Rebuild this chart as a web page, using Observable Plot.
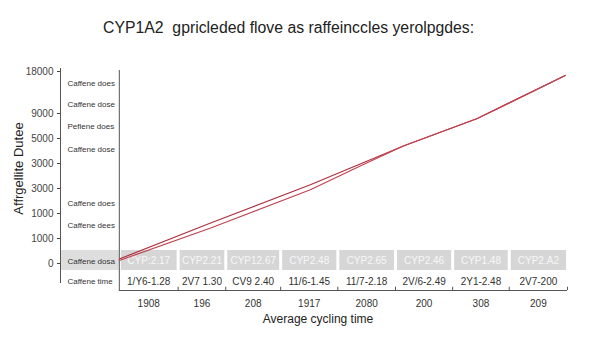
<!DOCTYPE html>
<html>
<head>
<meta charset="utf-8">
<script src="https://cdn.jsdelivr.net/npm/d3@7"></script>
<script src="https://cdn.jsdelivr.net/npm/@observablehq/plot@0.6"></script>
<style>
  html, body { margin: 0; padding: 0; background: #fff; }
  body { width: 600px; height: 338px; overflow: hidden; font-family: "Liberation Sans", Arial, sans-serif; }
  #title { height: 50px; box-sizing: border-box; padding-top: 18px; padding-left: 103px; font-size: 15.8px; line-height: 20px; color: #222; white-space: pre; }
  #chart svg { display: block; }
</style>
</head>
<body>
<div id="title"></div>
<div id="chart"></div>
<script>
const titleText = "CYP1A2  gpricleded flove as raffeinccles yerolpgdes:";
const yTitle = "Affrgellite Dutee";
const xTitle = "Average cycling time";

const yTickValues = [7.68, 6, 5, 4, 3, 2, 1, 0];
const yTickLabels = ["18000", "9000", "5000", "3000", "3000", "1000", "1000", "0"];

const rowLabels = ["Caffene does", "Caffene dose", "Peflene does", "Caffene dose", "Caffene does", "Caffene dees", "Caffene dosa", "Caffene time"];
const rowLevels = [7.2, 6.36, 5.48, 4.56, 2.4, 1.52, 0.08, -0.72];

const columnEdges = [0, 1.05, 1.9, 2.88, 3.9, 4.93, 5.95, 6.96, 8];
const cypLabels = ["CYP:2.17", "CYP2.21", "CYP12.67", "CYP2.48", "CYP2.65", "CYP2.46", "CYP1.48", "CYP2.A2"];
const rangeLabels = ["1/Y6-1.28", "2V7 1.30", "CV9 2.40", "11/6-1.45", "11/7-2.18", "2V/6-2.49", "2Y1-2.48", "2V7-200"];
const xTickLabels = ["1908", "196", "208", "1917", "2080", "200", "308", "209"];

const seriesAx = [0, 1.63, 3.41, 5.07, 6.39, 7.96];
const seriesAy = [0.18, 1.62, 3.15, 4.7, 5.8, 7.52];
const seriesBx = [0, 1.63, 3.41, 4.3, 5.07, 6.39, 7.96];
const seriesBy = [0.12, 1.42, 2.95, 3.9, 4.7, 5.8, 7.52];

const bandTop = 0.52, bandBottom = -0.28, rangeRow = -0.72;
const yMin = -1.08, yMax = 7.72, xMin = -1.05;

document.getElementById("title").textContent = titleText;

const columns = cypLabels.map((c, i) => ({
  x1: columnEdges[i], x2: columnEdges[i + 1],
  xc: (columnEdges[i] + columnEdges[i + 1]) / 2,
  cyp: c, range: rangeLabels[i], tick: xTickLabels[i]
}));
const rows = rowLabels.map((t, i) => ({text: t, y: rowLevels[i]}));
const lineData = [
  ...seriesAx.map((x, i) => ({s: "A", x, y: seriesAy[i]})),
  ...seriesBx.map((x, i) => ({s: "B", x, y: seriesBy[i]}))
];

const chart = Plot.plot({
  width: 600,
  height: 288,
  marginLeft: 60,
  marginRight: 33,
  marginTop: 20,
  marginBottom: 48,
  style: {fontFamily: "Liberation Sans, Arial, sans-serif", background: "transparent"},
  x: {domain: [xMin, 8], axis: null},
  y: {domain: [yMin, yMax]},
  marks: [
    Plot.rect([0], {x1: xMin, x2: 0, y1: bandBottom, y2: bandTop, fill: "#dedede"}),
    Plot.rect(columns, {x1: "x1", x2: "x2", y1: bandBottom, y2: bandTop, fill: "#d6d6d6", insetLeft: 2, insetRight: 1}),
    Plot.text(columns, {x: "xc", y: (bandTop + bandBottom) / 2, text: "cyp", fill: "#f6f6f6", fontSize: 10}),
    Plot.text(columns, {x: "xc", y: rangeRow, text: "range", fill: "#333", fontSize: 10}),
    Plot.text(columns, {x: "xc", y: yMin, text: "tick", fill: "#333", fontSize: 10, dy: 13}),
    Plot.text(rows, {x: xMin, y: "y", text: "text", textAnchor: "start", dx: 7, fill: "#333", fontSize: 8}),
    Plot.ruleX([xMin], {y1: yMax + 0.08, y2: -0.8, stroke: "#555"}),
    Plot.ruleX([0], {y1: yMax, y2: yMin, stroke: "#555"}),
    Plot.ruleY([yMin], {x1: 0, x2: 8, stroke: "#555"}),
    Plot.ruleX(columnEdges.slice(1), {y1: yMin, y2: yMin + 0.13, stroke: "#555"}),
    Plot.axisY(yTickValues, {
      tickFormat: d => yTickLabels[yTickValues.indexOf(d)],
      tickSize: 3, tickPadding: 4, fontSize: 10, color: "#444", label: null
    }),
    Plot.line(lineData, {x: "x", y: "y", z: "s", stroke: d => d.s === "A" ? "#b0303f" : "#c0444f", strokeWidth: 1.2}),
    Plot.text([yTitle], {frameAnchor: "left", textAnchor: "middle", dx: -42, dy: -12, rotate: -90, fontSize: 13, fill: "#222"}),
    Plot.text([xTitle], {frameAnchor: "bottom", dx: 4, dy: 32, fontSize: 12, fill: "#222"})
  ]
});
document.getElementById("chart").appendChild(chart);
</script>
</body>
</html>
